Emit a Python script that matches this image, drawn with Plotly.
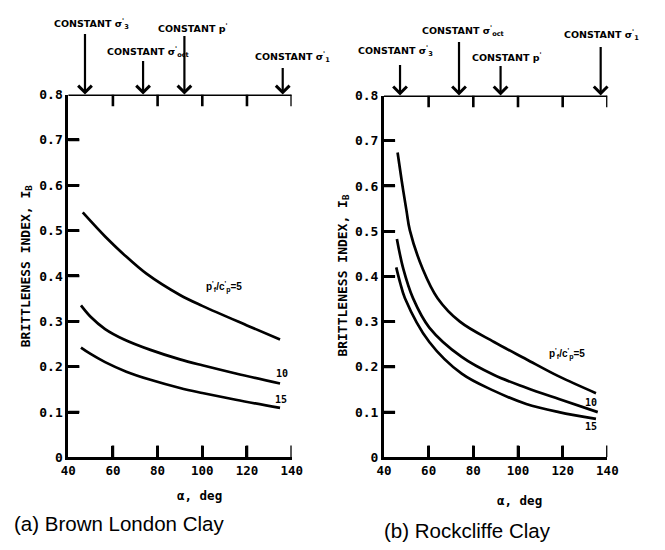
import plotly.graph_objects as go

# ---------------- data ----------------
# (a) Brown London Clay
a5_x = [46.5, 56.5, 65, 75, 90, 100, 120, 134.8]
a5_y = [0.540, 0.487, 0.447, 0.405, 0.358, 0.334, 0.291, 0.260]
a10_x = [45.7, 50, 56.5, 65, 76.8, 90, 100, 115, 134.8]
a10_y = [0.335, 0.310, 0.283, 0.260, 0.237, 0.216, 0.203, 0.185, 0.163]
a15_x = [45.7, 50, 56.5, 66, 76.8, 90, 100, 115, 134.8]
a15_y = [0.242, 0.228, 0.210, 0.189, 0.171, 0.153, 0.142, 0.127, 0.109]

# (b) Rockcliffe Clay
b5_x = [46.1, 48, 50.1, 51.6, 57.4, 64, 74, 89.3, 103.7, 118.3, 134.9]
b5_y = [0.674, 0.610, 0.545, 0.502, 0.416, 0.352, 0.300, 0.255, 0.217, 0.179, 0.142]
b10_x = [45.8, 48.7, 53, 60.3, 74.8, 89.3, 103.7, 118.3, 135.7]
b10_y = [0.483, 0.416, 0.352, 0.287, 0.222, 0.182, 0.154, 0.129, 0.100]
b15_x = [45.5, 47.2, 49.4, 60.3, 74.8, 89.3, 103.7, 118.3, 134.9]
b15_y = [0.420, 0.387, 0.352, 0.255, 0.185, 0.147, 0.118, 0.100, 0.085]

x_ticks = [40, 60, 80, 100, 120, 140]
x_ticktext = ["40", "60", "80", "100", "120", "140"]
y_ticks = [0, 0.1, 0.2, 0.3, 0.4, 0.5, 0.6, 0.7, 0.8]
y_ticktext = ["0", "0.1", "0.2", "0.3", "0.4", "0.5", "0.6", "0.7", "0.8"]

# stress-path markers (alpha, deg) along the top axis
marker_names = ["CONSTANT σ<sup>'</sup><sub>3</sub>", "CONSTANT σ<sup>'</sup><sub>oct</sub>",
                "CONSTANT p<sup>'</sup>", "CONSTANT σ<sup>'</sup><sub>1</sub>"]
marker_alpha_a = [47.5, 73.5, 92, 136]
marker_alpha_b = [47.2, 73.6, 92.2, 137]

captions = ["(a) Brown London Clay", "(b) Rockcliffe Clay"]

# ---------------- figure ----------------
W, H = 665, 550
MONO = "DejaVu Sans Mono"
SANS = "DejaVu Sans"
LBL = "Liberation Sans"

fig = go.Figure()
line = dict(color="black", width=2.7, shape="spline", smoothing=1.0)
for xs, ys in [(a5_x, a5_y), (a10_x, a10_y), (a15_x, a15_y)]:
    fig.add_trace(go.Scatter(x=xs, y=ys, mode="lines", line=line, xaxis="x", yaxis="y",
                             hoverinfo="skip"))
for xs, ys in [(b5_x, b5_y), (b10_x, b10_y), (b15_x, b15_y)]:
    fig.add_trace(go.Scatter(x=xs, y=ys, mode="lines", line=line, xaxis="x2", yaxis="y2",
                             hoverinfo="skip"))


def xax(domain, anchor):
    return dict(domain=domain, anchor=anchor, range=[40, 140], tickmode="array",
                tickvals=x_ticks, ticktext=x_ticktext, ticks="inside", ticklen=11,
                tickwidth=2.6, tickcolor="black",
                showline=True, linewidth=2.8, linecolor="black",
                showgrid=False, zeroline=False,
                tickfont=dict(family=MONO, size=12.5, color="black", weight="bold"))


def yax(domain, anchor):
    return dict(domain=domain, anchor=anchor, range=[0, 0.8], tickmode="array",
                tickvals=y_ticks, ticktext=y_ticktext, ticks="inside", ticklen=11,
                tickwidth=2.6, tickcolor="black",
                showline=True, linewidth=2.8, linecolor="black",
                showgrid=False, zeroline=False,
                tickfont=dict(family=MONO, size=13, color="black", weight="bold"))


fig.update_layout(
    width=W, height=H, margin=dict(l=0, r=0, t=0, b=0),
    paper_bgcolor="white", plot_bgcolor="white", showlegend=False,
    xaxis=xax([62 / W, 292 / W], "y"),
    yaxis=yax([1 - 463 / H, 1 - 90 / H], "x"),
    xaxis2=xax([387 / W, 617 / W], "y2"),
    yaxis2=yax([1 - 463 / H, 1 - 91 / H], "x2"),
)

TK = dict(color="black", width=2.6)
shapes = []
for xr, yr in [("x", "y"), ("x2", "y2")]:
    # top border at 0.8
    shapes.append(dict(type="line", xref=xr, yref=yr, x0=40, x1=140, y0=0.8, y1=0.8,
                       line=dict(color="black", width=2.8), layer="above"))
    for v in x_ticks[1:]:
        shapes.append(dict(type="line", xref=xr, yref=yr, x0=v, x1=v, y0=0.8, y1=0.774,
                           line=TK, layer="above"))
        shapes.append(dict(type="line", xref=xr, yref=yr, x0=v, x1=v, y0=0.0, y1=0.026,
                           line=TK, layer="above"))
    for v in y_ticks[1:-1]:
        shapes.append(dict(type="line", xref=xr, yref=yr, x0=40, x1=45, y0=v, y1=v,
                           line=TK, layer="above"))
fig.update_layout(shapes=shapes)

ann = []
# arrows
arrow_len_a = [62, 35, 60, 28]
arrow_len_b = [32, 55, 31, 50]
for xr, yr, alphas, lens in [("x", "y", marker_alpha_a, arrow_len_a),
                             ("x2", "y2", marker_alpha_b, arrow_len_b)]:
    for a, L in zip(alphas, lens):
        ann.append(dict(x=a, y=0.8, xref=xr, yref=yr, text="", showarrow=True,
                        ax=0, ay=-L, arrowhead=4, arrowsize=1.2, arrowwidth=2.2,
                        arrowcolor="black"))
# marker labels (paper positions in px)
lab_a = [(86, 17), (145, 46), (190, 22), (293, 51)]
lab_b = [(399, 45), (469, 25), (514, 51), (611, 29)]
for pos in [lab_a, lab_b]:
    for name, (px, py) in zip(marker_names, pos):
        ann.append(dict(x=px / W, y=1 - py / H, xref="paper", yref="paper",
                        text="<b>" + name + "</b>", showarrow=False,
                        font=dict(family=SANS, size=9.5, color="black"),
                        xanchor="center", yanchor="middle"))

# y titles
for px, py in [(19, 266), (345, 276)]:
    ann.append(dict(x=px / W, y=1 - py / H, xref="paper", yref="paper",
                    text="<b>BRITTLENESS INDEX, I<sub>B</sub></b>", textangle=-90,
                    showarrow=False, font=dict(family=MONO, size=13, color="black"),
                    xanchor="center", yanchor="middle"))
# x titles
for px, py in [(197, 502), (527, 507)]:
    ann.append(dict(x=px / W, y=1 - py / H, xref="paper", yref="paper",
                    text="<b>α, deg</b>", showarrow=False,
                    font=dict(family=MONO, size=12.5, color="black"),
                    xanchor="center", yanchor="middle"))

# curve labels
curve_lbl = "<b>p<sup>'</sup><sub>f</sub>/c<sup>'</sup><sub>p</sub>=5</b>"
for xr, yr, pos5, pos10, pos15 in [("x", "y", (109.6, 0.375), (135.8, 0.186), (135.2, 0.127)),
                                   ("x2", "y2", (122, 0.228), (132.7, 0.122), (132.7, 0.068))]:
    ann.append(dict(x=pos5[0], y=pos5[1], xref=xr, yref=yr, text=curve_lbl, showarrow=False,
                    font=dict(family=LBL, size=10, color="black")))
    ann.append(dict(x=pos10[0], y=pos10[1], xref=xr, yref=yr, text="<b>10</b>", showarrow=False,
                    font=dict(family=MONO, size=10, color="black")))
    ann.append(dict(x=pos15[0], y=pos15[1], xref=xr, yref=yr, text="<b>15</b>", showarrow=False,
                    font=dict(family=MONO, size=10, color="black")))

# captions
for (px, py), cap in zip([(4, 531), (385, 538)], captions):
    ann.append(dict(x=px / W, y=1 - py / H, xref="paper", yref="paper", text=cap,
                    showarrow=False, font=dict(family=LBL, size=20.5, color="black"),
                    xanchor="left", yanchor="middle"))

fig.update_layout(annotations=ann)
fig.write_html("out.html")
